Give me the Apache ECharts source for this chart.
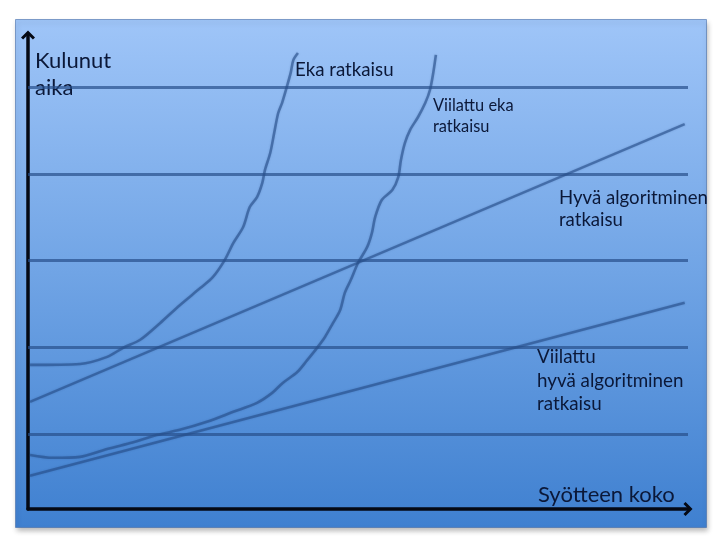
<!DOCTYPE html>
<html>
<head>
<meta charset="utf-8">
<script src="https://cdn.jsdelivr.net/npm/echarts@6/dist/echarts.min.js"></script>
<style>
html,body{margin:0;padding:0;background:#fff;}
#chart{width:720px;height:540px;}
</style>
</head>
<body>
<div id="chart"></div>
<script>
// ---- Data (arbitrary units: x = syötteen koko, y = kulunut aika) ----
const ekaX = [0.3, 7.9, 12.0, 14.4, 17.0, 20.0, 23.0, 26.1, 28.0, 29.8, 31.1, 32.6, 33.6, 34.7, 35.5, 35.9, 36.7, 37.3, 37.9, 38.5, 39.2, 39.8, 40.2, 40.9];
const ekaY = [30.4, 30.6, 32.1, 34.0, 35.7, 39.2, 43.0, 46.6, 48.9, 52.5, 56.1, 59.5, 63.7, 65.8, 68.8, 71.5, 75.1, 79.3, 83.5, 85.7, 89.0, 92.0, 94.7, 96.2];

const viilattuEkaX = [0.3, 3.8, 7.9, 11.4, 15.5, 19.5, 23.0, 27.1, 31.1, 34.7, 37.0, 38.6, 40.8, 42.3, 43.8, 45.0, 46.2, 47.3, 48.0, 48.9, 50.0, 51.4, 52.1, 52.6, 53.6, 55.2, 56.1, 56.5, 57.1, 57.9, 59.1, 60.2, 60.9, 61.4, 61.8];
const viilattuEkaY = [11.4, 10.8, 11.0, 12.4, 13.9, 15.6, 16.7, 18.4, 20.5, 22.4, 24.5, 26.6, 28.9, 31.4, 34.0, 36.3, 39.2, 42.0, 45.6, 48.3, 51.9, 55.3, 58.2, 61.6, 65.2, 67.3, 70.0, 73.6, 77.2, 80.0, 82.7, 85.7, 88.4, 92.0, 95.8];

const hyvaX = [0.3, 99.5];
const hyvaY = [22.6, 81.2];

const viilattuHyvaX = [0.3, 99.5];
const viilattuHyvaY = [7.0, 43.5];

const gridLevels = [15.8, 34.2, 52.5, 70.7, 89.0];
const gridExtent = [0, 100];

const yTitle = 'Kulunut\naika';
const xTitle = 'Syötteen koko';
const labelEka = 'Eka ratkaisu';
const labelViilattuEka = 'Viilattu eka\nratkaisu';
const labelHyva = 'Hyvä algoritminen\nratkaisu';
const labelViilattuHyva = 'Viilattu\nhyvä algoritminen\nratkaisu';

// ---- Build ----
const zip = (xs, ys) => xs.map((x, i) => [x, ys[i]]);
const lineColor = 'rgba(38,78,138,0.6)';
const textColor = '#0b1838';
const font = 'Lato, "Liberation Sans", sans-serif';
const chevron = 'path://M0,10 L10,0 L20,10 L17,13 L10,6 L3,13 Z';

function curve(name, data, smooth) {
  return {
    name, type: 'line', data, smooth: smooth, symbol: 'none', silent: true,
    lineStyle: { color: lineColor, width: 2.6, shadowColor: 'rgba(20,50,100,0.35)', shadowBlur: 2 }
  };
}

function txt(str, x, yCenterFirst, size, lh) {
  return {
    type: 'text', left: x, top: yCenterFirst - lh / 2, silent: true,
    style: { text: str, fill: textColor, font: size + 'px ' + font, lineHeight: lh, verticalAlign: 'top', align: 'left' }
  };
}

const chart = echarts.init(document.getElementById('chart'));
chart.setOption({
  animation: false,
  backgroundColor: '#ffffff',
  grid: { left: 28, top: 35, width: 660, height: 474 },
  xAxis: {
    type: 'value', min: 0, max: 100,
    axisLine: { show: true, symbol: ['none', chevron], symbolSize: [14, 10], lineStyle: { color: '#050914', width: 3.5 } },
    axisTick: { show: false }, axisLabel: { show: false }, splitLine: { show: false }
  },
  yAxis: {
    type: 'value', min: 0, max: 100,
    axisLine: { show: true, symbol: ['none', chevron], symbolSize: [14, 10], lineStyle: { color: '#050914', width: 3.5 } },
    axisTick: { show: false }, axisLabel: { show: false }, splitLine: { show: false }
  },
  graphic: [
    {
      type: 'rect', left: 15, top: 19, z: -10, silent: true,
      shape: { width: 691, height: 508 },
      style: {
        fill: new echarts.graphic.LinearGradient(0, 0, 0, 1, [
          { offset: 0, color: '#9fc5f8' },
          { offset: 0.5, color: '#70a4e5' },
          { offset: 1, color: '#3f80d0' }
        ]),
        stroke: 'rgba(70,110,170,0.6)', lineWidth: 1,
        shadowColor: 'rgba(0,0,0,0.28)', shadowBlur: 5, shadowOffsetX: 1, shadowOffsetY: 3
      }
    },
    txt(yTitle, 35, 60.5, 22, 27),
    txt(xTitle, 538, 494.5, 22, 27),
    txt(labelEka, 295, 70, 18.7, 22),
    txt(labelViilattuEka, 433, 105.5, 16.4, 21),
    txt(labelHyva, 559, 198, 18.6, 22),
    txt(labelViilattuHyva, 537, 357, 18.8, 23.5)
  ],
  series: [
    {
      name: 'grid', type: 'line', data: [], silent: true,
      markLine: {
        silent: true, symbol: 'none', label: { show: false },
        lineStyle: { color: 'rgba(38,78,138,0.7)', width: 3, type: 'solid' },
        emphasis: { disabled: true },
        data: gridLevels.map(v => [{ coord: [gridExtent[0], v] }, { coord: [gridExtent[1], v] }])
      }
    },
    curve('Eka ratkaisu', zip(ekaX, ekaY), 0.3),
    curve('Viilattu eka ratkaisu', zip(viilattuEkaX, viilattuEkaY), 0.3),
    curve('Hyvä algoritminen ratkaisu', zip(hyvaX, hyvaY), false),
    curve('Viilattu hyvä algoritminen ratkaisu', zip(viilattuHyvaX, viilattuHyvaY), false)
  ]
});
</script>
</body>
</html>
